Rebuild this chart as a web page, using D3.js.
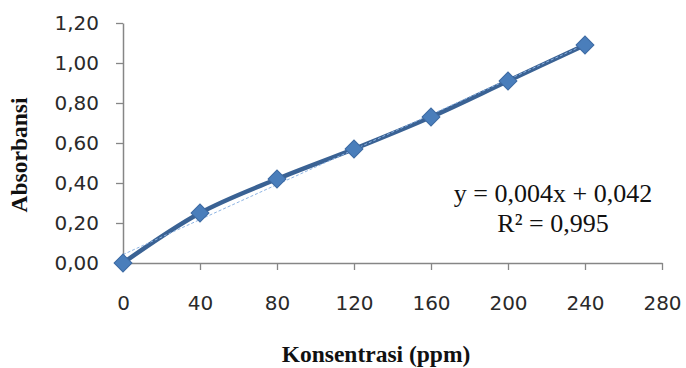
<!DOCTYPE html>
<html>
<head>
<meta charset="utf-8">
<script src="https://cdn.jsdelivr.net/npm/d3@7"></script>
<style>
  html, body { margin: 0; padding: 0; background: #fff; }
  svg { display: block; }
  .tick text { font-family: "DejaVu Sans", sans-serif; font-size: 20px; fill: #2a2a2a; }
  .axis-title { font-family: "Liberation Serif", "Times New Roman", serif; font-weight: bold; font-size: 23.5px; fill: #111; }
  .eq { font-family: "Liberation Serif", "Times New Roman", serif; font-size: 26px; fill: #111; }
</style>
</head>
<body>
<svg id="chart" width="686" height="368"></svg>
<script>
// concentration (ppm) and absorbance readings
const konsentrasi = [0, 40, 80, 120, 160, 200, 240];
const absorbansi = [0.00, 0.25, 0.42, 0.57, 0.73, 0.91, 1.09];
const xTicks = [0, 40, 80, 120, 160, 200, 240, 280];
const yTicks = [0, 0.2, 0.4, 0.6, 0.8, 1.0, 1.2];
const eqLines = ['y = 0,004x + 0,042', 'R\u00b2 = 0,995'];

const svg = d3.select('#chart');
const plot = { left: 123, right: 662, top: 23, bottom: 263 };

const x = d3.scaleLinear().domain([0, 280]).range([plot.left, plot.right]);
const y = d3.scaleLinear().domain([0, 1.2]).range([plot.bottom, plot.top]);
const fmt = v => d3.format('.2f')(v).replace('.', ',');

// axes
const xAxis = svg.append('g')
  .attr('transform', `translate(0,${plot.bottom})`)
  .call(d3.axisBottom(x).tickValues(xTicks).tickSize(7).tickPadding(26).tickSizeOuter(0));
const yAxis = svg.append('g')
  .attr('transform', `translate(${plot.left},0)`)
  .call(d3.axisLeft(y).tickValues(yTicks).tickFormat(fmt).tickSize(7).tickPadding(17).tickSizeOuter(0));
[xAxis, yAxis].forEach(a => {
  a.select('.domain').attr('stroke', '#868686').attr('stroke-width', 1.5);
  a.selectAll('.tick line').attr('stroke', '#868686').attr('stroke-width', 1.3);
});

// linear trendline (least squares)
const n = konsentrasi.length;
const mx = d3.mean(konsentrasi), my = d3.mean(absorbansi);
const sxy = d3.sum(konsentrasi, (v, i) => (v - mx) * (absorbansi[i] - my));
const sxx = d3.sum(konsentrasi, v => (v - mx) ** 2);
const slope = sxy / sxx, intercept = my - slope * mx;
const x0 = konsentrasi[0], x1 = konsentrasi[n - 1];

const pts = konsentrasi.map((k, i) => ({ k, a: absorbansi[i] }));

svg.append('path')
  .datum(pts)
  .attr('fill', 'none')
  .attr('stroke', '#3a6294')
  .attr('stroke-width', 4.5)
  .attr('stroke-linejoin', 'round')
  .attr('d', d3.line().x(d => x(d.k)).y(d => y(d.a)).curve(d3.curveCatmullRom.alpha(0.5)));

svg.append('line')
  .attr('x1', x(x0)).attr('y1', y(intercept + slope * x0))
  .attr('x2', x(x1)).attr('y2', y(intercept + slope * x1))
  .attr('stroke', '#8eb4e3')
  .attr('stroke-width', 1)
  .attr('stroke-dasharray', '3,2');

// diamond markers
svg.selectAll('.marker')
  .data(pts)
  .join('path')
  .attr('class', 'marker')
  .attr('d', d3.symbol(d3.symbolSquare, 160))
  .attr('transform', d => `translate(${x(d.k)},${y(d.a)}) rotate(45)`)
  .attr('fill', '#4a7ebb')
  .attr('stroke', '#3d6aa3')
  .attr('stroke-width', 1);

// equation label
svg.selectAll('.eq')
  .data(eqLines)
  .join('text')
  .attr('class', 'eq')
  .attr('x', 553)
  .attr('y', (d, i) => 202 + i * 30)
  .attr('text-anchor', 'middle')
  .text(d => d);

// axis titles
svg.append('text')
  .attr('class', 'axis-title')
  .attr('x', 376).attr('y', 362)
  .attr('text-anchor', 'middle')
  .text('Konsentrasi (ppm)');

svg.append('text')
  .attr('class', 'axis-title')
  .attr('transform', 'translate(27,155) rotate(-90)')
  .attr('text-anchor', 'middle')
  .text('Absorbansi');
</script>
</body>
</html>
